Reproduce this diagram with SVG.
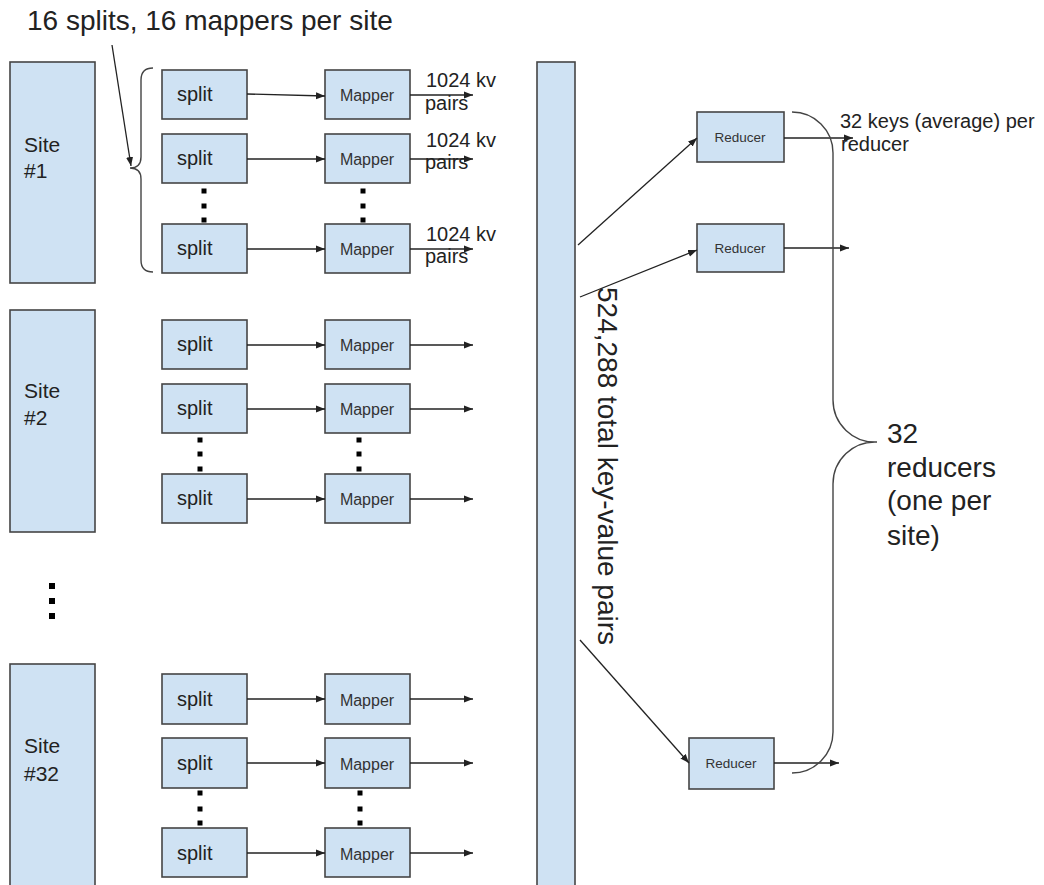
<svg xmlns="http://www.w3.org/2000/svg" width="1044" height="885" viewBox="0 0 1044 885">
<defs>
<style>
.box{fill:#cfe2f3;stroke:#454545;stroke-width:1.6}
.t{font-family:"Liberation Sans",Arial,sans-serif;fill:#222}
.s20{font-size:20px}
.s21{font-size:21px}
.map{font-size:16px;fill:#333;text-anchor:middle}
.red{font-size:13.5px;fill:#333;text-anchor:middle}
.big{font-size:28px}
.c{fill:none;stroke:#222;stroke-width:1.3}
.ca{fill:none;stroke:#222;stroke-width:1.3;marker-end:url(#ah)}
.br{fill:none;stroke:#444;stroke-width:1.4}
.dot{fill:#000}
</style>
<marker id="ah" markerUnits="userSpaceOnUse" markerWidth="10" markerHeight="8" refX="9" refY="4" orient="auto">
<path d="M0,0.5 L9,4 L0,7.5 z" fill="#222"/>
</marker>
</defs>
<rect width="1044" height="885" fill="#fff"/>

<g id="title"><text class="t big" x="27" y="30">16 splits, 16 mappers per site</text></g>

<g id="site1"><rect class="box" x="10" y="62" width="85" height="221"/><text class="t s21" x="24" y="152">Site</text><text class="t s21" x="24" y="178">#1</text></g>
<g id="site2"><rect class="box" x="10" y="310" width="85" height="222"/><text class="t s21" x="24" y="398">Site</text><text class="t s21" x="24" y="425">#2</text></g>
<g id="site32"><rect class="box" x="10" y="664" width="85" height="240"/><text class="t s21" x="24" y="753">Site</text><text class="t s21" x="24" y="781">#32</text></g>

<g id="bar"><rect class="box" x="537" y="62" width="38" height="840"/></g>
<g id="bar-label"><text class="t big" transform="translate(598,287) rotate(90)">524,288 total key-value pairs</text></g>

<!-- Site 1 splits and mappers -->
<g id="s1-split1"><rect class="box" x="162" y="70" width="85" height="49"/><text class="t s20" x="177" y="101">split</text></g>
<g id="s1-split2"><rect class="box" x="162" y="134" width="85" height="49"/><text class="t s20" x="177" y="165">split</text></g>
<g id="s1-split3"><rect class="box" x="162" y="224" width="85" height="49"/><text class="t s20" x="177" y="255">split</text></g>
<g id="s1-map1"><rect class="box" x="325" y="70" width="85" height="49"/><text class="t map" x="367" y="101">Mapper</text></g>
<g id="s1-map2"><rect class="box" x="325" y="134" width="85" height="49"/><text class="t map" x="367" y="165">Mapper</text></g>
<g id="s1-map3"><rect class="box" x="325" y="224" width="85" height="49"/><text class="t map" x="367" y="255">Mapper</text></g>

<!-- Site 2 -->
<g id="s2-split1"><rect class="box" x="162" y="320" width="85" height="49"/><text class="t s20" x="177" y="351">split</text></g>
<g id="s2-split2"><rect class="box" x="162" y="384" width="85" height="49"/><text class="t s20" x="177" y="415">split</text></g>
<g id="s2-split3"><rect class="box" x="162" y="474" width="85" height="49"/><text class="t s20" x="177" y="505">split</text></g>
<g id="s2-map1"><rect class="box" x="325" y="320" width="85" height="49"/><text class="t map" x="367" y="351">Mapper</text></g>
<g id="s2-map2"><rect class="box" x="325" y="384" width="85" height="49"/><text class="t map" x="367" y="415">Mapper</text></g>
<g id="s2-map3"><rect class="box" x="325" y="474" width="85" height="49"/><text class="t map" x="367" y="505">Mapper</text></g>

<!-- Site 32 -->
<g id="s32-split1"><rect class="box" x="162" y="674" width="85" height="50"/><text class="t s20" x="177" y="706">split</text></g>
<g id="s32-split2"><rect class="box" x="162" y="738" width="85" height="50"/><text class="t s20" x="177" y="770">split</text></g>
<g id="s32-split3"><rect class="box" x="162" y="828" width="85" height="49"/><text class="t s20" x="177" y="860">split</text></g>
<g id="s32-map1"><rect class="box" x="325" y="674" width="85" height="50"/><text class="t map" x="367" y="706">Mapper</text></g>
<g id="s32-map2"><rect class="box" x="325" y="738" width="85" height="50"/><text class="t map" x="367" y="770">Mapper</text></g>
<g id="s32-map3"><rect class="box" x="325" y="828" width="85" height="49"/><text class="t map" x="367" y="860">Mapper</text></g>

<!-- Reducers -->
<g id="reducer1"><rect class="box" x="697" y="112" width="87" height="50"/><text class="t red" x="740" y="142">Reducer</text></g>
<g id="reducer2"><rect class="box" x="697" y="224" width="87" height="48"/><text class="t red" x="740" y="253">Reducer</text></g>
<g id="reducer3"><rect class="box" x="689" y="738" width="85" height="51"/><text class="t red" x="731" y="768">Reducer</text></g>

<!-- dots -->
<g id="dots">
<rect class="dot" x="201.5" y="188.5" width="5" height="5"/><rect class="dot" x="201.5" y="203.5" width="5" height="5"/><rect class="dot" x="201.5" y="217.5" width="5" height="5"/>
<rect class="dot" x="360.5" y="188.5" width="5" height="5"/><rect class="dot" x="360.5" y="203.5" width="5" height="5"/><rect class="dot" x="360.5" y="217.5" width="5" height="5"/>
<rect class="dot" x="197.5" y="437.5" width="5" height="5"/><rect class="dot" x="197.5" y="451.5" width="5" height="5"/><rect class="dot" x="197.5" y="466.5" width="5" height="5"/>
<rect class="dot" x="356.5" y="437.5" width="5" height="5"/><rect class="dot" x="356.5" y="451.5" width="5" height="5"/><rect class="dot" x="356.5" y="466.5" width="5" height="5"/>
<rect class="dot" x="197.5" y="790.5" width="5" height="5"/><rect class="dot" x="197.5" y="806.5" width="5" height="5"/><rect class="dot" x="197.5" y="820.5" width="5" height="5"/>
<rect class="dot" x="357.5" y="790.5" width="5" height="5"/><rect class="dot" x="357.5" y="806.5" width="5" height="5"/><rect class="dot" x="357.5" y="820.5" width="5" height="5"/>
<rect class="dot" x="49" y="583" width="6" height="6"/><rect class="dot" x="49" y="598" width="6" height="6"/><rect class="dot" x="49" y="613" width="6" height="6"/>
</g>

<g id="connectors">
<path class="ca" d="M112,45 L131,166"/>
<path class="br" d="M153,68 Q141,68 141,80 L141,157 Q141,168 130,168 Q141,168 141,179 L141,260 Q141,272 153,272"/>
<path class="ca" d="M247,94 L325,96"/>
<path class="ca" d="M247,159 L325,159"/>
<path class="ca" d="M247,249 L325,249"/>
<path class="ca" d="M410,95 L473,95"/>
<path class="ca" d="M410,159 L473,159"/>
<path class="ca" d="M410,249 L473,249"/>
<path class="ca" d="M247,345 L325,345"/>
<path class="ca" d="M247,409 L325,409"/>
<path class="ca" d="M247,499 L325,499"/>
<path class="ca" d="M410,345 L473,345"/>
<path class="ca" d="M410,409 L473,409"/>
<path class="ca" d="M410,499 L473,499"/>
<path class="ca" d="M247,699 L325,699"/>
<path class="ca" d="M247,763 L325,763"/>
<path class="ca" d="M247,853 L325,853"/>
<path class="ca" d="M410,699 L473,699"/>
<path class="ca" d="M410,763 L473,763"/>
<path class="ca" d="M410,853 L473,853"/>
<path class="ca" d="M578,245 L697,138"/>
<path class="ca" d="M580,297 L697,250"/>
<path class="ca" d="M580,640 L689,763"/>
<path class="ca" d="M784,138 L853,138"/>
<path class="ca" d="M784,248 L849,248"/>
<path class="ca" d="M774,763 L839,763"/>
<path class="br" d="M792,112 A41,41 0 0 1 833,153 L833,400 A42,42 0 0 0 877,442 A42,42 0 0 0 833,484 L833,732 A41,41 0 0 1 792,773"/>
</g>

<g id="labels">
<text class="t s20" x="426" y="87">1024 kv</text><text class="t s20" x="425" y="110">pairs</text>
<text class="t s20" x="426" y="147">1024 kv</text><text class="t s20" x="425" y="169">pairs</text>
<text class="t s20" x="426" y="241">1024 kv</text><text class="t s20" x="425" y="263">pairs</text>
<text class="t s20" x="840" y="128">32 keys (average) per</text><text class="t s20" x="841" y="151">reducer</text>
<text class="t big" x="887" y="443">32</text>
<text class="t big" x="887" y="477">reducers</text>
<text class="t big" x="887" y="510">(one per</text>
<text class="t big" x="887" y="545">site)</text>
</g>
</svg>
